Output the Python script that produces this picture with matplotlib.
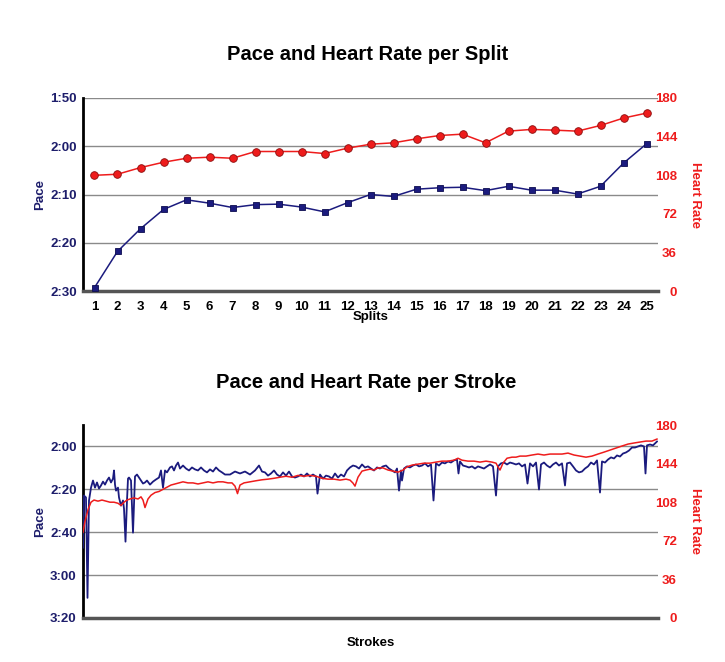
import matplotlib
matplotlib.use("Agg")
import matplotlib.pyplot as plt
from matplotlib.ticker import FuncFormatter, FixedLocator

plt.rcParams['font.family'] = ['Liberation Sans', 'DejaVu Sans']

# ---------------- data ----------------
splits = list(range(1, 26))
split_pace = [149.3, 141.8, 137.1, 133.1, 131.1, 131.8, 132.7, 132.1, 132.0, 132.6,
              133.6, 131.7, 130.0, 130.4, 128.9, 128.6, 128.5, 129.2, 128.3, 129.1,
              129.1, 129.9, 128.3, 123.5, 119.5]
split_hr = [107.9, 108.9, 115.1, 120.1, 123.8, 124.8, 123.8, 130.1, 130.1, 130.1,
            128.2, 133.2, 136.9, 138.2, 141.9, 145.0, 146.3, 138.2, 149.1, 150.7,
            150.0, 149.1, 154.4, 161.3, 165.9]

stroke_pace_x = [0, 2, 6, 9, 12, 16, 20, 24, 28, 32, 36, 40, 44, 48, 52, 56, 60, 62, 64, 66,
                 70, 72, 76, 80, 82, 85, 88, 90, 92, 96, 100, 104, 108, 112, 116, 120, 124, 128,
                 134, 140, 146, 152, 156, 160, 164, 168, 174, 178, 182, 186, 190, 194, 200, 206,
                 212, 218, 224, 230, 236, 242, 248, 254, 260, 266, 272, 278, 284, 290,
                 294, 304, 314, 324, 334, 344, 352, 358, 364, 370, 376, 382, 388, 394, 400, 406,
                 412, 418, 424, 430, 436, 442, 448, 454, 460, 466, 469, 474, 480, 486, 492, 498,
                 504, 510, 516, 522, 528, 534, 540, 546, 552, 558, 564, 570, 576, 582,
                 588, 594, 600, 606, 612, 618, 624, 628, 632, 636, 638, 642, 648, 654, 660, 666,
                 672, 678, 684, 690, 696, 701, 706, 712, 718, 724, 730, 736, 742, 748, 751, 754,
                 760, 766, 772, 778, 784, 790, 796, 802, 808, 814, 820, 826, 830, 836, 842, 848,
                 854, 860, 866,
                 872, 878, 884, 889, 894, 900, 906, 912, 916, 922, 928, 934, 940, 946, 952, 958,
                 964, 968, 974, 980, 986, 992, 998, 1004, 1010, 1016, 1022, 1028, 1034, 1038,
                 1044, 1050, 1056, 1062, 1068, 1074, 1080, 1086, 1092, 1098, 1104, 1110, 1116,
                 1122, 1125, 1128, 1134, 1140, 1144, 1148]
stroke_pace = [167.2, 142.9, 143.8, 190.6, 145.2, 139.2, 135.9, 139.2, 136.8, 139.6, 138.2, 136.4,
               137.8, 135.9, 134.5, 136.8, 135.0, 131.2, 137.8, 140.6, 139.2, 143.8, 147.6, 145.2,
               149.0, 164.4, 145.2, 135.0, 134.5, 135.9, 160.2, 134.0, 133.1, 134.5, 135.9, 137.3,
               136.8, 135.9, 137.8, 136.4, 135.4, 134.5, 131.2, 139.2, 131.2, 132.1, 129.8, 129.3,
               131.2, 128.9, 127.5, 130.3, 128.9, 130.3, 131.2, 129.8, 130.7, 131.2, 129.8, 131.2,
               132.1, 130.7, 131.7, 129.8, 131.2, 132.1, 133.1, 133.1,
               133.1, 131.7, 132.6, 131.7, 133.1, 131.2, 128.9, 131.7, 132.1, 133.6, 132.6, 131.2,
               133.1, 134.0, 132.1, 133.6, 131.7, 134.0, 134.5, 134.0, 133.1, 134.0, 132.6, 134.0,
               133.1, 134.0, 142.0, 133.1, 135.0, 133.6, 134.0, 135.0, 132.6, 134.5, 133.1, 134.0,
               131.2, 129.8, 128.9, 129.3, 130.3, 128.4, 129.8, 129.3, 130.3, 131.2,
               129.8, 130.3, 129.3, 128.9, 130.3, 131.2, 132.1, 130.3, 140.6, 131.2, 135.9, 130.3,
               129.3, 129.8, 128.9, 128.4, 129.3, 128.9, 127.9, 129.3, 128.4, 145.2, 127.9, 128.9,
               127.5, 127.9, 127.0, 127.5, 126.5, 126.1, 132.6, 127.0, 128.9, 129.3, 129.8, 129.3,
               130.3, 129.3, 129.8, 130.3, 129.3, 128.4, 129.3, 142.9, 129.3, 127.9, 127.5, 128.4,
               127.5, 127.9, 128.4,
               127.9, 129.3, 128.4, 137.3, 127.9, 129.3, 127.5, 140.1, 128.4, 127.5, 128.9, 129.8,
               128.4, 127.5, 128.9, 127.9, 138.2, 127.9, 127.5, 129.3, 131.2, 132.1, 131.7, 130.3,
               129.3, 127.5, 128.4, 126.5, 141.5, 127.0, 127.5, 126.1, 125.1, 125.6, 124.2, 124.7,
               123.3, 122.8, 121.9, 120.5, 120.5, 120.0, 119.5, 120.0, 132.6, 119.5, 119.1, 119.5,
               118.6, 117.7]

stroke_hr_x = [0, 4, 10, 16, 22, 30, 38, 46, 54, 62, 70, 76, 82, 88, 94, 102, 110, 116, 120, 124,
               130, 136, 144, 152, 160, 168, 176, 184, 192, 200, 210, 220, 230, 240, 250, 260,
               270, 280, 290, 298, 304, 309, 314, 322, 334, 346, 358, 370, 382, 394, 406, 418,
               430, 442, 454, 466, 478, 490, 502, 514, 526, 534, 540, 544, 550, 558, 566, 574,
               582, 590, 600, 610, 620, 630, 640, 648, 658, 670, 682, 694, 706, 718, 730, 742,
               750, 758, 770, 782, 794, 806, 818, 826, 830, 834, 840, 848, 858, 866, 874, 886,
               898, 910, 922, 934, 946, 958, 970, 982, 994, 1006, 1018, 1030, 1042, 1054, 1066,
               1078, 1090, 1102, 1114, 1126, 1138, 1148]
stroke_hr = [80, 90, 101, 108, 110, 109, 110, 109, 108, 108, 107, 105, 108, 110, 111, 112, 111,
             113, 110, 103, 111, 114.5, 117, 118, 120, 122, 124, 125, 126, 127, 126, 126, 125,
             126, 127, 126, 127, 127, 126, 126, 123, 116, 124, 126, 127, 128, 128.9, 129.5,
             130.3, 131.3, 132.2, 131.3, 133, 132.2, 133, 132.2, 130.3, 129.5, 129.5, 128.6,
             129.5, 128.6, 125.8, 123, 131.3, 137, 138, 138.8, 138, 140, 140, 138, 137, 136,
             138, 141, 142.6, 143.5, 144.4, 144.4, 145.4, 146.3, 146.3, 147.2, 149, 147.2,
             146.3, 146.3, 145.4, 146.3, 145.4, 144.4, 141, 138, 144.4, 149, 150, 150, 151,
             151, 152, 152.9, 152, 152.9, 152.9, 152.9, 153.8, 152, 151, 150, 151, 152.9,
             154.7, 156.6, 158.5, 160.4, 162.2, 163.2, 164.1, 165, 165, 166.9]

# ---------------- styling ----------------
BLUE = '#1b1b7e'
NAVY_TXT = '#1d1d6b'
RED = '#ee1c1c'
GRID = '#8a8a8a'


def pace_fmt(v, pos=None):
    v = int(round(v))
    return f"{v // 60}:{v % 60:02d}"


def style_axes(ax, ax2, pace_ticks, ylim):
    ax.set_ylim(*ylim)
    ax.yaxis.set_major_locator(FixedLocator(pace_ticks))
    ax.yaxis.set_major_formatter(FuncFormatter(pace_fmt))
    ax.grid(axis='y', color=GRID, linewidth=1.0)
    ax.set_axisbelow(True)
    for s in ['top', 'right']:
        ax.spines[s].set_visible(False)
        ax2.spines[s].set_visible(False)
    ax2.spines['left'].set_visible(False)
    ax2.spines['bottom'].set_visible(False)
    ax.spines['left'].set_linewidth(2.0)
    ax.spines['left'].set_color('black')
    ax.spines['bottom'].set_linewidth(2.5)
    ax.spines['bottom'].set_color('#555555')
    ax.tick_params(axis='y', length=0, pad=4.5, labelsize=9.5, labelcolor=NAVY_TXT)
    for lab in ax.get_yticklabels():
        lab.set_fontweight('bold')
    ax2.set_ylim(0, 180)
    ax2.set_yticks([0, 36, 72, 108, 144, 180])
    ax2.tick_params(axis='y', length=0, pad=13.7, labelsize=9.5, labelcolor=RED)
    for lab in ax2.get_yticklabels():
        lab.set_fontweight('bold')
        lab.set_horizontalalignment('right')
    ax.set_ylabel('Pace', color=NAVY_TXT, fontsize=9.5, fontweight='bold', labelpad=3)
    ax2.set_ylabel('Heart Rate', color=RED, fontsize=9.5, fontweight='bold',
                   rotation=270, labelpad=17)


fig = plt.figure(figsize=(7.25, 6.62), dpi=100)

# ---- top chart ----
ax1 = fig.add_axes([83 / 725, 1 - 291 / 662, 575 / 725, 193 / 662])
ax1b = ax1.twinx()
ax1.plot(splits, split_pace, color=BLUE, lw=1.1, marker='s', markersize=5,
         markerfacecolor=BLUE, markeredgecolor='#0d0d50', markeredgewidth=0.6, zorder=3)
ax1b.plot(splits, split_hr, color=RED, lw=1.1, marker='o', markersize=5.5,
          markerfacecolor=RED, markeredgecolor='#8a0c0c', markeredgewidth=0.6, zorder=3)
ax1.set_xlim(0.5, 25.5)
ax1.set_xticks(splits)
ax1.tick_params(axis='x', length=0, pad=7, labelsize=9.5)
for lab in ax1.get_xticklabels():
    lab.set_fontweight('bold')
style_axes(ax1, ax1b, [110, 120, 130, 140, 150], (150, 110))
ax1.set_xlabel('Splits', fontsize=9.5, fontweight='bold', labelpad=-1)
fig.text(367.5 / 725, 1 - 60 / 662, 'Pace and Heart Rate per Split', ha='center', va='baseline',
         fontsize=14.5, fontweight='bold')

# ---- bottom chart ----
ax2 = fig.add_axes([83 / 725, 1 - 618 / 662, 575 / 725, 193 / 662])
ax2b = ax2.twinx()
ax2.plot(stroke_pace_x, stroke_pace, color=BLUE, lw=1.3, zorder=3)
ax2b.plot(stroke_hr_x, stroke_hr, color=RED, lw=1.1, zorder=3)
ax2.set_xlim(0, 1150)
ax2.set_xticks([])
style_axes(ax2, ax2b, [120, 140, 160, 180, 200], (200, 110))
ax2.set_xlabel('Strokes', fontsize=9.5, fontweight='bold', labelpad=14)
fig.text(366.5 / 725, 1 - 387.7 / 662, 'Pace and Heart Rate per Stroke', ha='center',
         va='baseline', fontsize=14.5, fontweight='bold')

fig.savefig('out.png', dpi=100)
